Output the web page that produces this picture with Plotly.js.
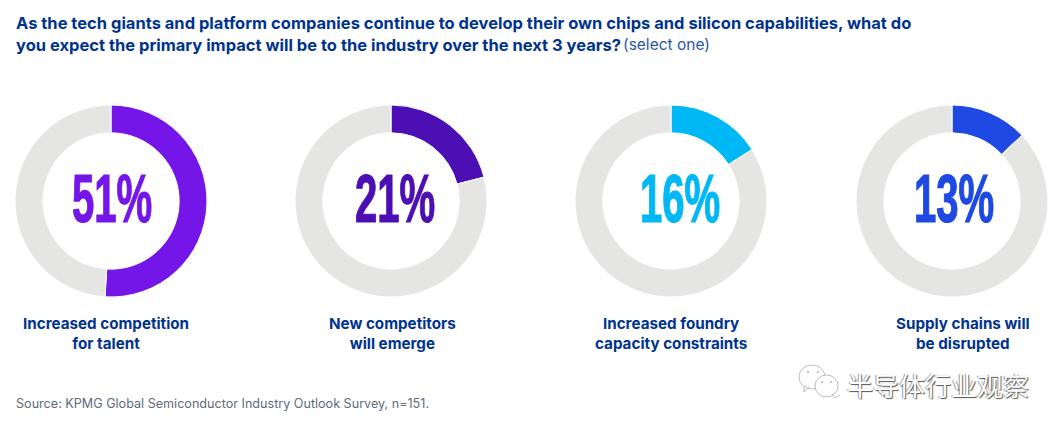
<!DOCTYPE html>
<html lang="en">
  <head>
    <meta charset="UTF-8" />
    <title>Chip capabilities survey</title>
    <script src="https://cdn.plot.ly/plotly-3.0.1.min.js"></script>
    <style>
      html, body { margin: 0; padding: 0; background: #ffffff; }
      #chart { width: 1063px; height: 430px; }
    </style>
  </head>
  <body>
    <div id="chart"></div>
    <script>
      const shares = [51, 21, 16, 13];
      const shareLabels = ["51%", "21%", "16%", "13%"];
      const captions = [
        "Increased competition<br>for talent",
        "New competitors<br>will emerge",
        "Increased foundry<br>capacity constraints",
        "Supply chains will<br>be disrupted",
      ];
      const colors = ["#7416E8", "#4B0FB4", "#00B8F5", "#1E49E2"];
      const centersX = [111, 391, 671, 952];
      const captionX = [105.5, 392.5, 671, 962.5];
      const numberX = [112, 395, 680, 954];
      const restColor = "#E5E5E3";
      const W = 1063, H = 430;
      const centerY = 201, radius = 96;
      const navy = "#00338D";

      const px = (x) => x / W;
      const py = (y) => 1 - y / H;

      const traces = shares.map((v, i) => ({
        type: "pie",
        values: [v, 100 - v],
        hole: 0.71,
        sort: false,
        direction: "clockwise",
        rotation: 0,
        textinfo: "none",
        hoverinfo: "skip",
        showlegend: false,
        marker: { colors: [colors[i], restColor], line: { color: "#ffffff", width: 1 } },
        domain: {
          x: [px(centersX[i] - radius), px(centersX[i] + radius)],
          y: [py(centerY + radius), py(centerY - radius)],
        },
      }));

      const note = (x, y, text, size, color, extra) => Object.assign({
        xref: "paper", yref: "paper", x: px(x), y: py(y),
        text: text, showarrow: false, xanchor: "center", yanchor: "middle",
        font: { family: "Inter, sans-serif", size: size, color: color },
      }, extra || {});

      const annotations = [];
      shares.forEach((v, i) => {
        annotations.push(note(numberX[i], 198, "<b>" + shareLabels[i] + "</b>", 68, colors[i],
          { font: { family: "Liberation Sans, sans-serif", size: 68, color: colors[i] } }));
        annotations.push(note(captionX[i], 333, "<b>" + captions[i] + "</b>", 15.2, navy,
          { align: "center" }));
      });
      annotations.push(note(14, 23, "<b>As the tech giants and platform companies continue to develop their own chips and silicon capabilities, what do</b>", 16.5, navy, { xanchor: "left" }));
      annotations.push(note(14, 45, "<b>you expect the primary impact will be to the industry over the next 3 years?</b>", 16.5, navy, { xanchor: "left" }));
      annotations.push(note(621, 45, "(select one)", 15.5, "#2a55a5", { xanchor: "left" }));
      annotations.push(note(14, 403, "Source: KPMG Global Semiconductor Industry Outlook Survey, n=151.", 12.6, "#5f6b7a", { xanchor: "left" }));
      annotations.push(note(845, 384, "半导体行业观察", 26, "#ffffff", {
        xanchor: "left",
        font: { family: "Noto Sans CJK SC, sans-serif", size: 26, color: "#ffffff", shadow: "1px 1px 1px #555555, -1px 0 1px #999999" },
      }));

      // wechat mark next to the watermark text
      const bubble = (x0, y0, x1, y1) => ({
        type: "circle", xref: "paper", yref: "paper",
        x0: px(x0), x1: px(x1), y0: py(y0), y1: py(y1),
        fillcolor: "rgba(255,255,255,0.9)", line: { color: "#bdbdbd", width: 1 },
      });
      const dot = (x, y) => ({
        type: "circle", xref: "paper", yref: "paper",
        x0: px(x - 1), x1: px(x + 1), y0: py(y + 1), y1: py(y - 1),
        fillcolor: "#b5b5b5", line: { width: 0 },
      });
      const tail = (x, y, dx, dy) => ({
        type: "path", xref: "paper", yref: "paper",
        path: `M ${px(x)} ${py(y)} L ${px(x + dx)} ${py(y + dy)} L ${px(x + dx + 5)} ${py(y + 1)}`,
        line: { color: "#bdbdbd", width: 1 },
      });

      const layout = {
        width: W,
        height: H,
        margin: { l: 0, r: 0, t: 0, b: 0 },
        paper_bgcolor: "#ffffff",
        showlegend: false,
        annotations: annotations,
        shapes: [
          bubble(799, 365, 825, 389),
          tail(804, 386, 0, 6),
          bubble(815, 375, 838, 397),
          tail(832, 394, 3, 4),
          dot(808, 372),
          dot(818, 372),
          dot(822, 382),
          dot(831, 382),
        ],
      };

      Plotly.newPlot("chart", traces, layout, { displayModeBar: false, staticPlot: true }).then(() => {
        // the big percentages are a condensed face in the original, none is installed
        document.querySelectorAll("#chart .annotation-text").forEach((t) => {
          if (shareLabels.includes(t.textContent)) {
            t.style.transformBox = "fill-box";
            t.style.transformOrigin = "center";
            t.style.transform = "scaleX(0.59)";
            t.style.stroke = t.style.fill;
            t.style.strokeWidth = "1.2px";
          }
        });
      });
    </script>
  </body>
</html>
